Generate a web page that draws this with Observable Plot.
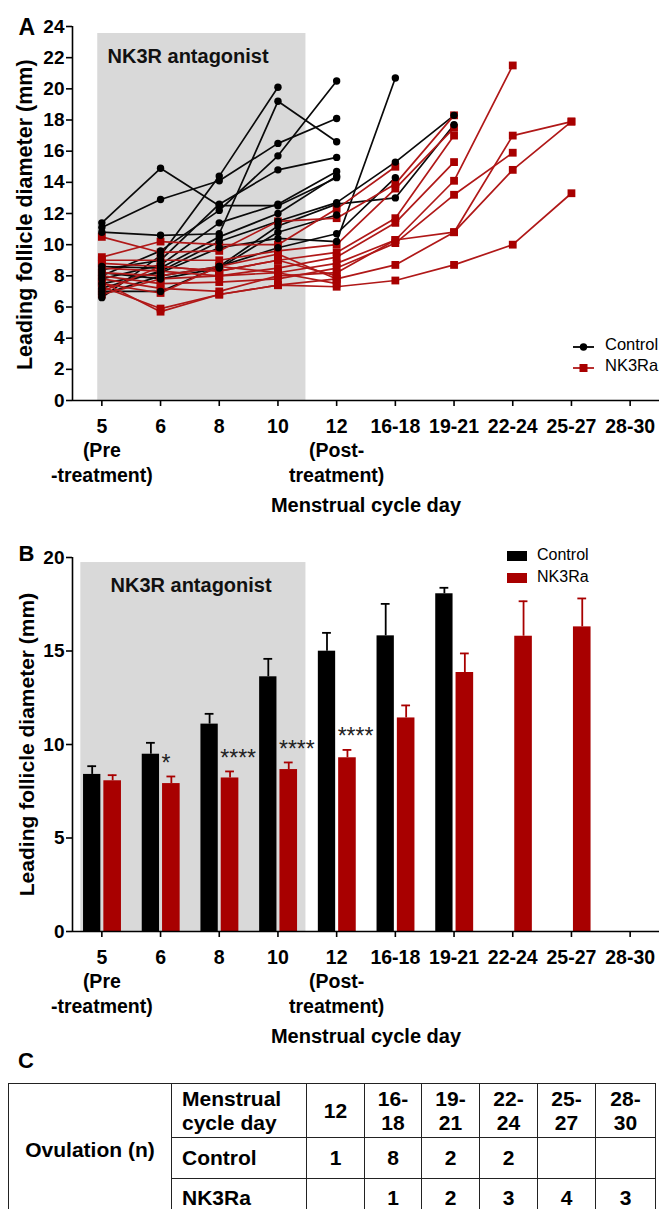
<!DOCTYPE html>
<html><head><meta charset="utf-8">
<script src="https://cdn.jsdelivr.net/npm/d3@7"></script>
<script src="https://cdn.jsdelivr.net/npm/@observablehq/plot@0.6"></script>
<style>
body{margin:0;background:#fff;}
#page{position:relative;width:659px;height:1209px;overflow:hidden;font-family:"Liberation Sans",Arial,sans-serif;color:#000;}
.abs{position:absolute;}
.leg{position:absolute;font-size:16.5px;white-space:nowrap;line-height:1;}
.ytitle{position:absolute;width:400px;margin-left:-200px;text-align:center;font-weight:bold;white-space:nowrap;line-height:1;transform:rotate(-90deg);}
#tbl{position:absolute;left:8px;top:1083px;border-collapse:collapse;font-family:"Liberation Sans Narrow","Liberation Sans",sans-serif;font-weight:bold;font-size:21px;line-height:1.1;}
#tbl td{border:1.5px solid #222;padding:0;text-align:center;vertical-align:middle;}
#tbl td.lab{text-align:left;padding-left:10px;}
</style></head><body><div id="page"></div>
<script>
// ---------- data ----------
const days = ["5","6","8","10","12","16-18","19-21","22-24","25-27","28-30"];
const dayTickLabels = ["5\n(Pre\n-treatment)","6","8","10","12\n(Post-\ntreatment)","16-18","19-21","22-24","25-27","28-30"];

// Panel A: individual leading follicle diameters (mm), one array per subject, by day index
const controlSubjects = [
  [11.4, 14.9, 12.5, 12.5, 14.3],
  [11.1, 12.9, 14.1, 16.5, 18.1],
  [6.6, 9.3, 14.4, 20.1],
  [10.8, 10.6, 10.7, 19.2, 16.6],
  [8.0, 9.6, 12.2, 15.7, 20.5],
  [8.4, 9.0, 12.6, 14.8, 15.6],
  [7.8, 8.7, 11.4, 12.6, 14.7],
  [8.6, 8.5, 10.5, 12.0, 14.4],
  [7.2, 8.3, 10.2, 11.5, 12.7, 15.3, 18.3],
  [7.5, 8.2, 9.8, 10.4, 10.2, 20.7],
  [7.0, 7.0, 8.6, 9.8, 10.7, 14.3],
  [6.8, 8.0, 8.6, 11.2, 12.6, 13.0, 17.7],
  [8.2, 7.8, 8.5, 10.8, 11.9]
];
const nk3raSubjects = [
  [9.2, 10.2, 10.0, 10.0, 12.3, 15.0],
  [10.5, 9.5, 9.6, 11.5, 11.7, 13.9, 18.3],
  [9.0, 9.0, 9.0, 9.6, 10.0, 13.6, 17.5],
  [8.8, 8.6, 8.3, 9.0, 9.5, 11.7, 17.0],
  [8.5, 8.3, 8.0, 8.5, 9.2, 11.4, 15.3],
  [8.2, 8.0, 8.6, 8.2, 8.8, 10.3, 14.1, 21.5],
  [8.0, 7.5, 7.6, 7.8, 8.5, 10.1, 13.2, 15.9],
  [7.8, 7.2, 7.0, 8.0, 8.2, 10.3, 10.8, 17.0, 17.9],
  [7.6, 5.7, 6.8, 7.4, 7.8, 8.7, 10.8, 14.8, 17.9],
  [7.3, 5.9, 6.8, 7.4, 7.3, 7.7, 8.7, 10.0, 13.3],
  [7.0, 8.6, 8.3, 9.0, 8.0],
  [6.8, 7.8, 8.0, 8.2, 7.5],
  [7.5, 6.9, 8.6, 9.4, 7.8]
];

// Panel B: mean and SEM by day index
const controlMean = [8.40, 9.48, 11.09, 13.62, 14.99, 15.81, 18.06, null, null, null];
const controlSEM  = [0.44, 0.61, 0.55, 0.96, 0.98, 1.71, 0.32, null, null, null];
const nk3raMean   = [8.06, 7.91, 8.21, 8.66, 9.29, 11.42, 13.85, 15.79, 16.29, null];
const nk3raSEM    = [0.30, 0.38, 0.35, 0.38, 0.42, 0.67, 1.02, 1.87, 1.52, null];
const sigLabels   = [null, "*", "****", "****", "****", null, null, null, null, null];

// Panel C: ovulation table
const tableDays  = ["12","16-\n18","19-\n21","22-\n24","25-\n27","28-\n30"];
const ovControl  = ["1","8","2","2","",""];
const ovNK3Ra    = ["","1","2","3","4","3"];

const yTicksA = d3.range(0, 25, 2);
const yTicksB = [0, 5, 10, 15, 20];
const treatWindow = {start: -0.07, end: 3.477}; // treatment period on the day-index axis

// ---------- styling ----------
const RED = "#a80000";
const RED_LINE = "#b01818";
const FONT = "'Liberation Sans', Arial, sans-serif";
const page = document.getElementById("page");

function rows(subjects, group) {
  const out = [];
  subjects.forEach((vals, s) => vals.forEach((v, i) => { if (v != null) out.push({group, subj: group + s, i, v}); }));
  return out;
}
const ctrlRows = rows(controlSubjects, "Control");
const nkRows = rows(nk3raSubjects, "NK3Ra");

function commonAxes(yTicks, yTop) {
  return [
    Plot.ruleY([0], {x1: -0.5, x2: 9.5, stroke: "#000", strokeWidth: 1.6}),
    Plot.ruleX([-0.5], {y1: 0, y2: yTop, stroke: "#000", strokeWidth: 1.6}),
    Plot.axisX(d3.range(10), {tickFormat: i => dayTickLabels[i], tickSize: 6, tickPadding: 9, fontSize: 19.5, fontWeight: "bold", lineHeight: 1.25, label: null, strokeWidth: 1.6}),
    Plot.axisY(yTicks, {tickSize: 6, tickPadding: 2, fontSize: 19, fontWeight: "bold", label: null, strokeWidth: 1.6}),
    Plot.text(["Menstrual cycle day"], {frameAnchor: "bottom", dy: 111, fontSize: 20, fontWeight: "bold"})
  ];
}

// ---------- Panel A ----------
const plotA = Plot.plot({
  width: 659, height: 530, marginLeft: 72, marginRight: 0, marginTop: 26, marginBottom: 130,
  style: {fontFamily: FONT, fontWeight: "bold", fontSize: "19px", color: "#000", background: "transparent", overflow: "visible"},
  x: {type: "linear", domain: [-0.5, 9.5], axis: null},
  y: {domain: [0, 24], axis: null},
  marks: [
    Plot.rect([treatWindow], {x1: "start", x2: "end", y1: 0, y2: 23.55, fill: "#d9d9d9"}),
    ...commonAxes(yTicksA, 24),
    Plot.text(["NK3R antagonist"], {frameAnchor: "top-left", dx: 35, dy: 22, textAnchor: "start", fontSize: 20, fontWeight: "bold", fill: "#111"}),
    Plot.text(["A"], {frameAnchor: "top-left", dx: -54, dy: -8, textAnchor: "start", fontSize: 23, fontWeight: "bold"}),
    Plot.line(ctrlRows, {x: "i", y: "v", z: "subj", stroke: "#0a0a0a", strokeWidth: 1.7}),
    Plot.line(nkRows, {x: "i", y: "v", z: "subj", stroke: RED_LINE, strokeWidth: 1.7}),
    Plot.dot(nkRows, {x: "i", y: "v", symbol: "square", r: 4.4, fill: RED, stroke: "none"}),
    Plot.dot(ctrlRows, {x: "i", y: "v", symbol: "circle", r: 3.7, fill: "#000", stroke: "none"})
  ]
});
plotA.style.position = "absolute"; plotA.style.left = "0px"; plotA.style.top = "0px";
page.appendChild(plotA);

// ---------- Panel B ----------
const barRows = [];
days.forEach((d, i) => {
  if (controlMean[i] != null) barRows.push({i, group: "Control", mean: controlMean[i], sem: controlSEM[i], off1: -0.312, off2: -0.017});
  if (nk3raMean[i] != null) barRows.push({i, group: "NK3Ra", mean: nk3raMean[i], sem: nk3raSEM[i], off1: 0.034, off2: 0.334, sig: sigLabels[i]});
});
const colorOf = d => d.group === "Control" ? "#000" : RED;
const mid = d => d.i + (d.off1 + d.off2) / 2;
const plotB = Plot.plot({
  width: 659, height: 500, marginLeft: 72, marginRight: 0, marginTop: 27, marginBottom: 99,
  style: {fontFamily: FONT, fontWeight: "bold", fontSize: "19px", color: "#000", background: "transparent", overflow: "visible"},
  x: {type: "linear", domain: [-0.5, 9.5], axis: null},
  y: {domain: [0, 20], axis: null},
  marks: [
    Plot.rect([treatWindow], {x1: -0.358, x2: "end", y1: 0, y2: 19.73, fill: "#d9d9d9"}),
    Plot.text(["NK3R antagonist"], {frameAnchor: "top-left", dx: 38, dy: 20, textAnchor: "start", fontSize: 20, fontWeight: "bold", fill: "#111"}),
    Plot.text(["B"], {frameAnchor: "top-left", dx: -54, dy: -12, textAnchor: "start", fontSize: 22, fontWeight: "bold"}),
    Plot.ruleX(barRows, {x: mid, y1: "mean", y2: d => d.mean + d.sem, stroke: colorOf, strokeWidth: 1.8}),
    Plot.ruleY(barRows, {y: d => d.mean + d.sem, x1: d => mid(d) - 0.075, x2: d => mid(d) + 0.075, stroke: colorOf, strokeWidth: 1.8}),
    Plot.rectY(barRows, {x1: d => d.i + d.off1, x2: d => d.i + d.off2, y1: 0, y2: "mean", fill: colorOf}),
    Plot.text(barRows.filter(d => d.sig), {x: d => d.i + d.off1, y: d => d.mean + d.sem, text: "sig", dx: -1, dy: -13, textAnchor: "start", fontSize: 23, fontWeight: "normal", fill: "#222"}),
    ...commonAxes(yTicksB, 20)
  ]
});
plotB.style.position = "absolute"; plotB.style.left = "0px"; plotB.style.top = "530px";
page.appendChild(plotB);

// ---------- Rotated y-axis titles ----------
function yTitle(text, cx, cy, size) {
  const d = document.createElement("div");
  d.className = "ytitle"; d.textContent = text;
  d.style.fontSize = size + "px";
  d.style.left = cx + "px"; d.style.top = (cy - size / 2) + "px";
  page.appendChild(d);
}
yTitle("Leading follicle diameter (mm)", 26, 215, 21.5);
yTitle("Leading follicle diameter (mm)", 26, 744, 21);

// ---------- Legends ----------
function legendA(label, y, symbolSvg, color) {
  const sw = document.createElement("div");
  sw.className = "abs";
  sw.style.left = "572px"; sw.style.top = (y - 6) + "px";
  sw.innerHTML = `<svg width="23" height="12"><line x1="1" x2="22" y1="6" y2="6" stroke="${color}" stroke-width="1.8"/>${symbolSvg}</svg>`;
  page.appendChild(sw);
  const t = document.createElement("div");
  t.className = "leg"; t.textContent = label;
  t.style.left = "605px"; t.style.top = (y - 9) + "px";
  page.appendChild(t);
}
legendA("Control", 345, `<circle cx="11.5" cy="6" r="3.7" fill="#000"/>`, "#000");
legendA("NK3Ra", 366, `<rect x="7.5" y="2" width="8" height="8" fill="${RED}"/>`, RED_LINE);

function legendB(label, y, color) {
  const sw = document.createElement("div");
  sw.className = "abs";
  sw.style.left = "507px"; sw.style.top = (y - 5) + "px";
  sw.style.width = "20px"; sw.style.height = "10px"; sw.style.background = color;
  page.appendChild(sw);
  const t = document.createElement("div");
  t.className = "leg"; t.textContent = label; t.style.fontSize = "16px";
  t.style.left = "537px"; t.style.top = (y - 9) + "px";
  page.appendChild(t);
}
legendB("Control", 556, "#000");
legendB("NK3Ra", 578, RED);

// ---------- Panel C ----------
const cLetter = document.createElement("div");
cLetter.className = "abs";
cLetter.textContent = "C";
cLetter.style.cssText += "left:18px;top:1050px;font-size:22px;font-weight:bold;line-height:1;";
page.appendChild(cLetter);

const colW = [163, 135, 58, 57, 58, 58, 58, 60];
const tbl = document.createElement("table");
tbl.id = "tbl";
const cg = document.createElement("colgroup");
colW.forEach(w => { const c = document.createElement("col"); c.style.width = w + "px"; cg.appendChild(c); });
tbl.appendChild(cg);
function addRow(cells, h, first) {
  const tr = document.createElement("tr");
  tr.style.height = h + "px";
  if (first) {
    const td = document.createElement("td");
    td.rowSpan = 3; td.textContent = "Ovulation (n)";
    tr.appendChild(td);
  }
  cells.forEach((c, k) => {
    const td = document.createElement("td");
    if (k === 0) td.className = "lab";
    td.innerHTML = String(c).replace("\n", "<br>");
    tr.appendChild(td);
  });
  tbl.appendChild(tr);
}
addRow(["Menstrual\ncycle day", ...tableDays], 54, true);
addRow(["Control", ...ovControl], 41, false);
addRow(["NK3Ra", ...ovNK3Ra], 38, false);
page.appendChild(tbl);
</script>
</body></html>
